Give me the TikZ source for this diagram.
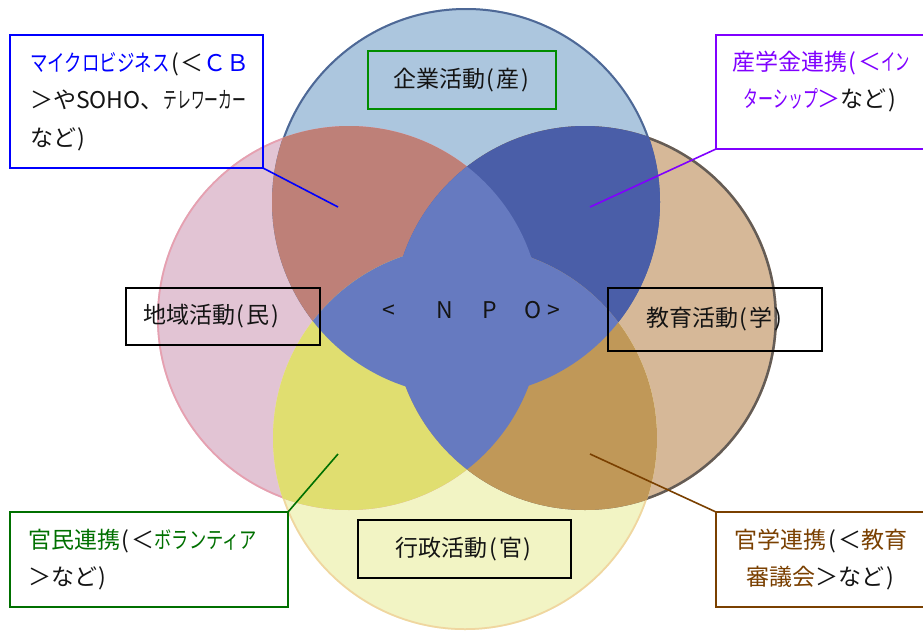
\documentclass[tikz,border=0pt]{standalone}
\usepackage{fontspec}
\setmainfont{Noto Sans CJK JP}
\newcommand\po{\makebox[0.5em]{(}}
\newcommand\pc{\makebox[0.5em]{)}}
\newcommand\nk[2]{\scalebox{#1}[1]{#2}}
\definecolor{tfill}{RGB}{172,198,222}
\definecolor{lfill}{RGB}{226,196,212}
\definecolor{rfill}{RGB}{214,184,152}
\definecolor{bfill}{RGB}{242,244,196}
\definecolor{tlfill}{RGB}{190,128,120}
\definecolor{trfill}{RGB}{74,94,168}
\definecolor{blfill}{RGB}{224,222,112}
\definecolor{brfill}{RGB}{192,152,88}
\definecolor{ctrfill}{RGB}{102,122,192}
\definecolor{tline}{RGB}{78,104,150}
\definecolor{lline}{RGB}{230,160,176}
\definecolor{rline}{RGB}{100,92,86}
\definecolor{bline}{RGB}{240,214,160}
\definecolor{cbblue}{RGB}{0,0,255}
\definecolor{pur}{RGB}{128,0,255}
\definecolor{grn}{RGB}{0,112,0}
\definecolor{brn}{RGB}{122,64,0}
\definecolor{ink}{RGB}{20,20,20}
\begin{document}
\begin{tikzpicture}[x=1pt,y=-1pt,
  font=\fontsize{23}{37.5}\selectfont,
  frame/.style={draw, line width=2pt, inner sep=0pt, outer sep=0pt, text=ink},
  lead/.style={line width=1.6pt}]
\useasboundingbox (0,0) rectangle (923,632);
\clip (0,0) rectangle (923,632);
\fill[white] (0,0) rectangle (923,632);
\def\cirT{(466,202) circle[radius=194pt]}
\def\cirL{(349,318) circle[radius=192pt]}
\def\cirR{(585,318) circle[radius=192pt]}
\def\cirB{(465,438) circle[radius=192pt]}
% single fills
\fill[tfill] \cirT;
\fill[lfill] \cirL;
\fill[rfill] \cirR;
\fill[bfill] \cirB;
% outlines (inner half)
\begin{scope}\clip \cirT; \draw[tline, line width=4pt] \cirT; \end{scope}
\begin{scope}\clip \cirL; \draw[lline, line width=3.5pt] \cirL; \end{scope}
\begin{scope}\clip \cirR; \draw[rline, line width=5pt] \cirR; \end{scope}
\begin{scope}\clip \cirB; \draw[bline, line width=3.5pt] \cirB; \end{scope}
% pair overlaps
\begin{scope}\clip \cirT; \fill[tlfill] \cirL; \fill[trfill] \cirR; \end{scope}
\begin{scope}\clip \cirB; \fill[blfill] \cirL; \fill[brfill] \cirR; \end{scope}
% centre
\begin{scope}\clip \cirT; \fill[ctrfill] \cirB; \end{scope}
\begin{scope}\clip \cirL; \fill[ctrfill] \cirR; \end{scope}

% boxes
\node[frame, draw=grn!80!green, minimum width=188pt, minimum height=58pt] (sangyo) at (462,80) {企業活動\po 産\pc};
\node[frame, draw=black, minimum width=194pt, minimum height=57pt, text width=160pt, inner xsep=17pt, align=left] (chiiki) at (223,316.5) {地域活動\po 民\pc};
\node[frame, draw=black, minimum width=214pt, minimum height=63pt] (kyoiku) at (715,319.5) {教育活動\po 学\pc};
\node[frame, draw=black, minimum width=213pt, minimum height=58pt] (gyosei) at (464.5,549) {行政活動\po 官\pc};

\node[text=ink] (npo) at (471.5,310) {\makebox[0pt]{<}\hspace{56pt}\makebox[0pt]{N}\hspace{45pt}\makebox[0pt]{P}\hspace{43pt}\makebox[0pt]{O}\hspace{21pt}\makebox[0pt]{>}};

\node[frame, draw=cbblue, minimum width=253pt, minimum height=133pt, text width=213pt, inner xsep=20pt, align=left] (cb) at (136.5,101.5)
  {{\color{cbblue}\nk{0.76}{マイクロビジネス}}\po＜{\color{cbblue}ＣＢ}\\＞やSOHO、\nk{0.6}{テレワーカー}\\など\pc};

\node[frame, draw=pur, minimum width=210pt, minimum height=114pt] (sangaku) at (821,92) {};
\node[text=ink, align=center] (sangakutext) at (821,81.5)
  {{\color{pur}産学金連携\po＜\nk{0.62}{イン}}\\{\color{pur}\nk{0.65}{ターシップ}＞}など\pc};

\node[frame, draw=grn, minimum width=278pt, minimum height=95pt, text width=242pt, inner xsep=18pt, align=left] (kanmin) at (149,559.5)
  {{\color{grn}官民連携}\po＜{\color{grn}\nk{0.75}{ボランティア}}\\＞など\pc};

\node[frame, draw=brn, minimum width=210pt, minimum height=95pt, align=center] (kangaku) at (821,559.5)
  {{\color{brn}官学連携}\po＜{\color{brn}教育}\\{\color{brn}審議会}＞など\pc};

% leader lines
\coordinate (pCB) at (338,207);
\coordinate (pTR) at (590,207);
\coordinate (pBL) at (338,454);
\coordinate (pBR) at (590,454);
\draw[lead, cbblue] (cb.south east) -- (pCB);
\draw[lead, pur] (sangaku.south west) -- (pTR);
\draw[lead, grn] (kanmin.north east) -- (pBL);
\draw[lead, brn] (kangaku.north west) -- (pBR);
\end{tikzpicture}
\end{document}
